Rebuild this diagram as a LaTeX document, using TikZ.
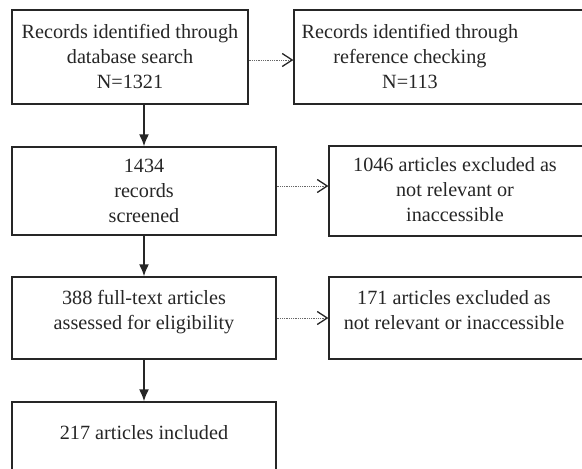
\documentclass[tikz,border=0pt]{standalone}
\usepackage{fontspec}
\setmainfont{Liberation Serif}
\usetikzlibrary{arrows.meta}

\definecolor{ink}{HTML}{262626}

\tikzset{
  box/.style={draw=ink, line width=1.2pt, inner sep=0pt},
  txt/.style={align=center, text=ink, inner sep=0pt, font=\fontsize{20.2}{25}\selectfont},
  flow/.style={draw=ink, line width=1.8pt, -{Latex[length=12pt,width=10pt]}},
  side/.style={draw=ink!70, line width=0.8pt, dash pattern=on 0.9pt off 0.9pt,
    -{Straight Barb[length=10pt,width=13pt,line width=1.3pt,color=ink]}}
}

\begin{document}
\begin{tikzpicture}[x=1pt,y=-1pt]
  \useasboundingbox (0,0) rectangle (582,469);
  \clip (0,0) rectangle (582,469);

  % left column
  \node[box, minimum width=236pt, minimum height=94pt] (db)   at (130,57)  {};
  \node[box, minimum width=264pt, minimum height=88pt] (scr)  at (144,191) {};
  \node[box, minimum width=264pt, minimum height=82pt] (full) at (144,318) {};
  \node[box, minimum width=264pt, minimum height=88pt] (inc)  at (144,446) {};

  % right column (runs past the edge)
  \node[box, minimum width=326pt, minimum height=94pt] (ref)  at (457,57)    {};
  \node[box, minimum width=291pt, minimum height=90pt] (exa)  at (474.5,191) {};
  \node[box, minimum width=291pt, minimum height=82pt] (exb)  at (474.5,318) {};

  % texts
  \node[txt] (dbt)   at (130,56)  {Records identified through\\database search\\N=1321};
  \node[txt] (scrt)  at (144,191) {1434\\records\\screened};
  \node[txt] (fullt) at (144,312) {388 full-text articles\\assessed for eligibility};
  \node[txt] (inct)  at (144,433) {217 articles included};
  \node[txt] (reft)  at (410,56)  {Records identified through\\reference checking\\N=113};
  \node[txt] (exat)  at (455,190) {1046 articles excluded as\\not relevant or\\inaccessible};
  \node[txt] (exbt)  at (454,310) {171 articles excluded as\\not relevant or inaccessible};

  % connectors
  \draw[flow] (db.south -| scr.north) -- (scr.north);
  \draw[flow] (scr.south) -- (full.north);
  \draw[flow] (full.south) -- (inc.north);
  \draw[side] ([yshift=-3pt]db.east) -- ([yshift=-3pt]db.east -| ref.west);
  \draw[side] ([yshift=5pt]scr.east) -- ([yshift=5pt]scr.east -| exa.west);
  \draw[side] (full.east) -- (full.east -| exb.west);
\end{tikzpicture}
\end{document}
